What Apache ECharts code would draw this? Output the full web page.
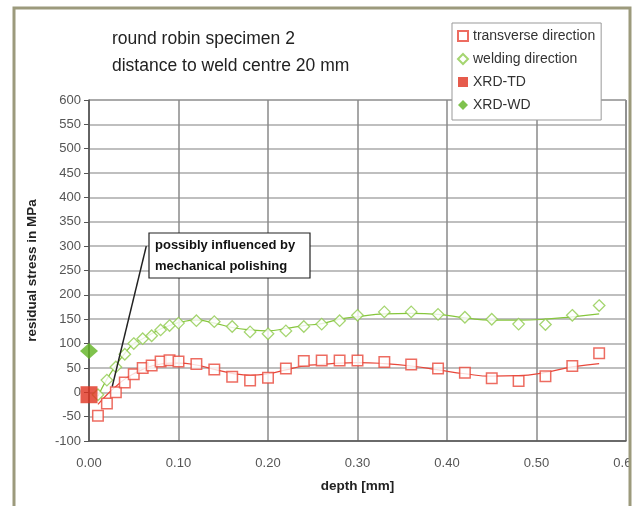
<!DOCTYPE html>
<html>
<head>
<meta charset="utf-8">
<script src="https://cdn.jsdelivr.net/npm/echarts@6/dist/echarts.min.js"></script>
<style>
html,body{margin:0;padding:0;background:#fff;}
#c{width:636px;height:506px;}
</style>
</head>
<body>
<div id="c"></div>
<script>
// ---- data ----
const depthTD = [0.01,0.02,0.03,0.04,0.05,0.06,0.07,0.08,0.09,0.10,0.12,0.14,0.16,0.18,0.20,0.22,0.24,0.26,0.28,0.30,0.33,0.36,0.39,0.42,0.45,0.48,0.51,0.54,0.57];
const stressTD = [-48,-23,0,20,37,50,55,63,66,63,58,47,32,24,30,49,64,65,65,65,62,57,49,40,29,23,33,54,80];
const depthWD = [0.01,0.02,0.03,0.04,0.05,0.06,0.07,0.08,0.09,0.10,0.12,0.14,0.16,0.18,0.20,0.22,0.24,0.26,0.28,0.30,0.33,0.36,0.39,0.42,0.45,0.48,0.51,0.54,0.57];
const stressWD = [-5,25,52,78,100,110,116,128,137,142,147,145,135,124,120,126,135,140,147,158,165,165,160,154,150,140,139,158,178];
// trend curves
const trendDepth = [0.01,0.02,0.03,0.04,0.05,0.06,0.07,0.08,0.09,0.10,0.12,0.14,0.16,0.18,0.20,0.22,0.24,0.26,0.28,0.30,0.33,0.36,0.39,0.42,0.45,0.48,0.51,0.54,0.57];
const trendTD = [-25,-5,12,27,38,47,54,58,60,60,56,47,39,35,38,46,54,57,60,61,59,54,46,38,33,34,41,52,59];
const trendWD = [-8,27,55,80,100,110,120,130,137,143,148,142,133,128,126,131,137,141,150,155,161,162,160,153,148,148,150,155,161];
const xrdDepth = [0.0];
const xrdTD = [-5];
const xrdWD = [85];
const seriesNames = ['transverse direction','welding direction','XRD-TD','XRD-WD'];
const titleLines = ['round robin specimen 2','distance to weld centre 20 mm'];
const noteLines = ['possibly influenced by','mechanical polishing'];
const noteFrom = [0.064, 300];
const noteTo = [0.026, 12];

const zip = (a,b) => a.map((v,i)=>[v,b[i]]);
const RED = '#e8473a', GREEN = '#8fcb4c';
const FONT = 'Liberation Sans, Arial, sans-serif';

const chart = echarts.init(document.getElementById('c'), null, {renderer:'canvas'});
chart.setOption({
  animation:false,
  backgroundColor:'#fff',
  grid:{left:89,right:10,top:100,bottom:65,show:true,borderColor:'#555',borderWidth:1,backgroundColor:'transparent',
    outerBoundsMode:'none',containLabel:false},
  xAxis:{type:'value',min:0,max:0.6,interval:0.1,
    name:'depth [mm]',nameLocation:'middle',nameGap:38,
    nameTextStyle:{fontFamily:FONT,fontWeight:'bold',fontSize:13.5,color:'#222'},
    axisLine:{show:true,onZero:false,lineStyle:{color:'#555',width:1.5}},
    axisTick:{show:false},
    axisLabel:{fontFamily:FONT,fontSize:13,color:'#555',margin:16,formatter:v=>v.toFixed(2)},
    splitLine:{show:true,lineStyle:{color:'#8a8a8a',width:1.5}}},
  yAxis:{type:'value',min:-100,max:600,interval:50,
    name:'residual stress in MPa',nameLocation:'middle',nameGap:50,nameRotate:90,
    nameTextStyle:{fontFamily:FONT,fontWeight:'bold',fontSize:13.5,color:'#222'},
    axisLine:{show:true,onZero:false,lineStyle:{color:'#555',width:1.5}},
    axisTick:{show:true,inside:false,length:5,lineStyle:{color:'#555'}},
    axisLabel:{fontFamily:FONT,fontSize:13,color:'#555',margin:8},
    splitLine:{show:true,lineStyle:{color:'#aaaaaa',width:1.5}}},
  legend:{data:seriesNames,orient:'vertical',left:452,top:23,
    backgroundColor:'#fff',borderColor:'#999',borderWidth:1,
    padding:[6,6,8,5],itemWidth:10,itemHeight:10,itemGap:9,
    textStyle:{fontFamily:FONT,fontSize:14,color:'#333'}},
  series:[
    {name:'trendTD',type:'line',data:zip(trendDepth,trendTD),smooth:true,showSymbol:false,silent:true,
      lineStyle:{color:RED,width:1.2},z:2,
      markLine:{silent:true,symbol:['none','none'],label:{show:false},
        lineStyle:{color:'#222',width:1.5,type:'solid'},
        data:[[{coord:noteFrom},{coord:noteTo}]]}},
    {name:'trendWD',type:'line',data:zip(trendDepth,trendWD),smooth:true,showSymbol:false,silent:true,
      lineStyle:{color:'#86c63c',width:1.2},z:2},
    {name:seriesNames[0],type:'scatter',data:zip(depthTD,stressTD),symbol:'rect',symbolSize:10.5,
      itemStyle:{color:'#fff',borderColor:RED,borderWidth:1.5},z:3},
    {name:seriesNames[1],type:'scatter',data:zip(depthWD,stressWD),symbol:'diamond',symbolSize:[11.5,11.5],
      itemStyle:{color:'#fff',borderColor:GREEN,borderWidth:1.3},z:3},
    {name:seriesNames[2],type:'scatter',data:zip(xrdDepth,xrdTD),symbol:'rect',symbolSize:17,
      itemStyle:{color:'#e0321f'},z:4},
    {name:seriesNames[3],type:'scatter',data:zip(xrdDepth,xrdWD),symbol:'diamond',symbolSize:[18,16],
      itemStyle:{color:'#5fb321'},z:4}
  ],
  graphic:[
    {type:'text',left:112,top:30,style:{text:titleLines[0],font:'17.5px '+FONT,fill:'#222'}},
    {type:'text',left:112,top:57,style:{text:titleLines[1],font:'17.5px '+FONT,fill:'#222'}},
    {type:'rect',shape:{x:149,y:233,width:161,height:45},style:{fill:'#fff',stroke:'#222',lineWidth:1.2},z:50},
    {type:'text',x:155,y:239,style:{text:noteLines[0],font:'bold 13px '+FONT,fill:'#111'},z:51},
    {type:'text',x:155,y:260,style:{text:noteLines[1],font:'bold 13px '+FONT,fill:'#111'},z:51},
    {type:'rect',shape:{x:630,y:0,width:6,height:506},style:{fill:'#fff'},z:99},
    {type:'rect',shape:{x:14,y:8,width:616,height:520},style:{fill:'none',stroke:'#9c9a7c',lineWidth:3},z:100}
  ]
});
</script>
</body>
</html>
